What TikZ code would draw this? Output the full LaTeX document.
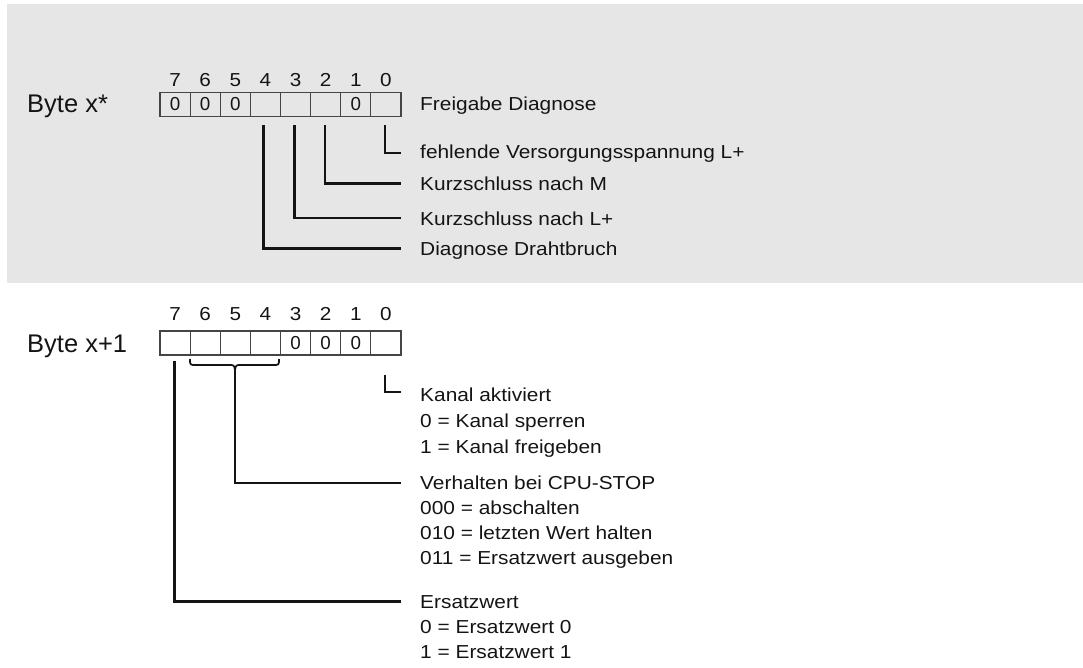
\documentclass[tikz,border=0pt]{standalone}
\usepackage{fontspec}
\setmainfont{Liberation Sans}
\definecolor{bg}{HTML}{E6E6E6}
\definecolor{ink}{HTML}{141414}
\definecolor{boxc}{HTML}{454545}
\newcommand{\labfont}{\fontsize{18.8}{22}\selectfont}
\newcommand{\bytefont}{\fontsize{25.5}{28}\selectfont}
\tikzset{
  cell/.style={draw=boxc, line width=1.2pt, minimum width=30.125pt, minimum height=24pt, inner sep=0pt, font=\labfont, text=ink},
  bitnum/.style={anchor=base, inner sep=0pt, font=\labfont, text=ink, xscale=1.1},
  lab/.style={anchor=base west, inner sep=0pt, font=\labfont, text=ink, xscale=1.11},
  bytelab/.style={anchor=base west, inner sep=0pt, font=\bytefont, text=ink},
  conn/.style={draw=ink, line width=2.1pt},
}
\begin{document}
\begin{tikzpicture}[x=1pt,y=-1pt]
\useasboundingbox (0,0) rectangle (1083,667);
\fill[bg] (7,4) rectangle (1083,283);

% ---------- Byte x* ----------
\node[bytelab] (bx) at (27,112) {Byte x*};
\foreach \b/\t in {7/0,6/0,5/0,4/,3/,2/,1/0,0/} {
  \node[cell] (u\b) at ({160+(7-\b)*30.125+15.06},104.5) {\t};
  \node[bitnum] (un\b) at ({160+(7-\b)*30.125+15.06},86.5) {\b};
}
\node[lab] (uf) at (420,110.7) {Freigabe Diagnose};
\node[lab] (ul0) at (420,158.5) {fehlende Versorgungsspannung L+};
\node[lab] (ul2) at (420,190.2) {Kurzschluss nach M};
\node[lab] (ul3) at (420,225) {Kurzschluss nach L+};
\node[lab] (ul4) at (420,255.5) {Diagnose Drahtbruch};

\coordinate (ut0) at (385,125);   \coordinate (ue0) at (401,153);
\coordinate (ut2) at (325,125);   \coordinate (ue2) at (401,183.5);
\coordinate (ut3) at (294.5,125); \coordinate (ue3) at (401,218);
\coordinate (ut4) at (263.5,125); \coordinate (ue4) at (401,248.5);
\draw[conn] (ut0) |- (ue0);
\draw[conn] (ut2) |- (ue2);
\draw[conn] (ut3) |- (ue3);
\draw[conn] (ut4) |- (ue4);

% ---------- Byte x+1 ----------
\node[bytelab] (by) at (27,352) {Byte x+1};
\foreach \b/\t in {7/,6/,5/,4/,3/0,2/0,1/0,0/} {
  \node[cell, fill=white] (w\b) at ({160+(7-\b)*30.125+15.06},343) {\t};
  \node[bitnum] (wn\b) at ({160+(7-\b)*30.125+15.06},320.5) {\b};
}
\node[lab] (k0) at (420,401) {Kanal aktiviert};
\node[lab] (k1) at (420,427) {0 = Kanal sperren};
\node[lab] (k2) at (420,453) {1 = Kanal freigeben};
\node[lab] (v0) at (420,489) {Verhalten bei CPU-STOP};
\node[lab] (v1) at (420,514) {000 = abschalten};
\node[lab] (v2) at (420,539.5) {010 = letzten Wert halten};
\node[lab] (v3) at (420,564) {011 = Ersatzwert ausgeben};
\node[lab] (e0) at (420,608) {Ersatzwert};
\node[lab] (e1) at (420,633) {0 = Ersatzwert 0};
\node[lab] (e2) at (420,658.5) {1 = Ersatzwert 1};

\coordinate (lt0) at (385,375);   \coordinate (le0) at (401,392);
\draw[conn] (lt0) |- (le0);
% brace under bits 6..4
\coordinate (bt) at (235,370);
\draw[conn, line width=1.7pt] (190,359) .. controls (190,365) .. (196,365) -- (229,365) .. controls (234,365) .. (bt)
  .. controls (236,365) .. (241,365) -- (273,365) .. controls (279,365) .. (279,359);
\coordinate (le1) at (401,483);
\draw[conn] (bt) |- (le1);
\coordinate (lt7) at (174.5,361); \coordinate (le7) at (401,601.5);
\draw[conn] (lt7) |- (le7);
\end{tikzpicture}
\end{document}
